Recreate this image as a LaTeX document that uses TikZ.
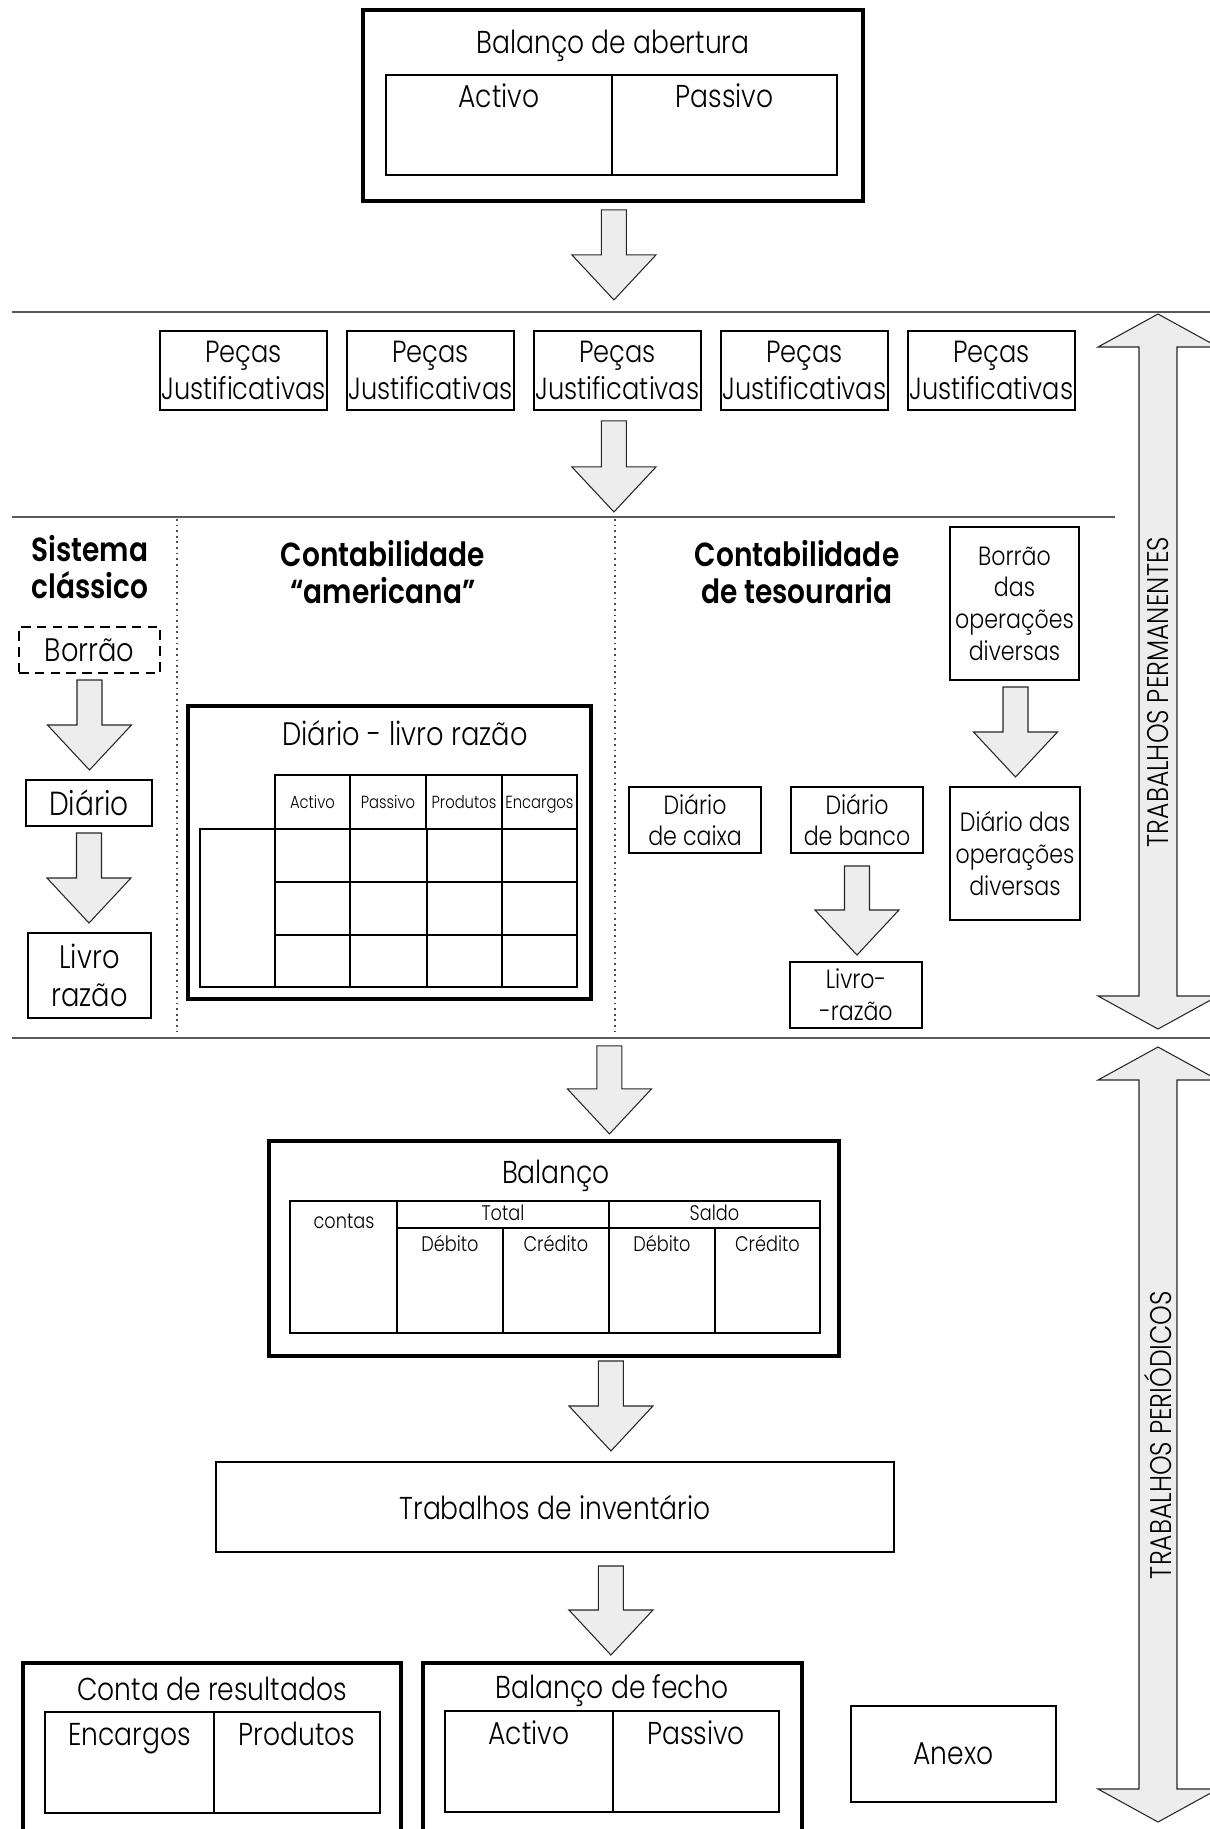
\documentclass[tikz,border=0pt]{standalone}
\usepackage{fontspec}
\setmainfont{Poppins}[UprightFont={* Light},BoldFont={* SemiBold},FakeStretch=0.84]
\usetikzlibrary{positioning,calc}

\newcommand{\seta}[2]{%
  \draw[setafill] (#1) ++(-12.5,0) -- ++(0,#2-45) -- ++(-29.5,0) -- ++(42,45)
    -- ++(42,-45) -- ++(-29.5,0) -- ++(0,45-#2) -- cycle;}
\newcommand{\setadupla}[3]{%
  \draw[setafill] (#1,#2) -- (#1+60,#2+33) -- (#1+19,#2+33) -- (#1+19,#3-33)
    -- (#1+60,#3-33) -- (#1,#3) -- (#1-60,#3-33) -- (#1-19,#3-33)
    -- (#1-19,#2+33) -- (#1-60,#2+33) -- cycle;}

\tikzset{
  caixa/.style={draw,line width=1.1pt,inner sep=0pt,outer sep=0pt,align=center,
    anchor=north west,font=\fontsize{18}{21}\selectfont},
  caixagrossa/.style={caixa,line width=2.2pt},
  tracejada/.style={caixa,dash pattern=on 5.5pt off 3.5pt},
  celula/.style={draw,line width=1.1pt,inner sep=0pt,outer sep=0pt,anchor=north west},
  texto/.style={inner sep=0pt,text height=0.72em,text depth=0pt,yshift=-2.2pt,
    font=\fontsize{18}{21}\selectfont},
  pequeno/.style={inner sep=0pt,text height=0.72em,text depth=0pt,font=\fontsize{10}{12}\selectfont},
  medio/.style={inner sep=0pt,text height=0.72em,text depth=0pt,yshift=-1.5pt,
    font=\fontsize{12}{14}\selectfont},
  titulo/.style={inner sep=0pt,align=center,font=\fontsize{19}{21.5}\selectfont\bfseries},
  vertical/.style={inner sep=0pt,rotate=90,font=\fontsize{17}{20}\selectfont},
  setafill/.style={draw=black!85,fill=black!7,line width=0.6pt},
  divisor/.style={draw=black!65,line width=1pt},
  pontos/.style={draw=black!70,line width=0.9pt,dash pattern=on 1pt off 2.2pt},
}

\begin{document}
\begin{tikzpicture}[x=0.02cm,y=-0.02cm]
\useasboundingbox (0,0) rectangle (1210,1829);

\node[caixagrossa,minimum width=10cm,minimum height=3.82cm] (ab) at (363,10) {};
\node[texto] (abt) at (613,43) {Balanço de abertura};
\node[celula,minimum width=4.52cm,minimum height=2cm] (abA) at (386,75) {};
\node[celula,minimum width=4.5cm,minimum height=2cm] (abP) at (abA.north east) {};
\node[texto] (abAt) at ([yshift=-0.44cm]abA.north) {Activo};
\node[texto] (abPt) at ([yshift=-0.44cm]abP.north) {Passivo};
\seta{$(ab.south)+(1,9)$}{90}

\draw[divisor] (12,312) -- (1210,312);

\node[caixa,minimum width=3.34cm,minimum height=1.58cm,font=\fontsize{17.4}{21.5}\selectfont] (pj1) at (160,331) {Peças\\Justificativas};
\node[caixa,minimum width=3.34cm,minimum height=1.58cm,font=\fontsize{17.4}{21.5}\selectfont,right=0.4cm of pj1] (pj2) {Peças\\Justificativas};
\node[caixa,minimum width=3.34cm,minimum height=1.58cm,font=\fontsize{17.4}{21.5}\selectfont,right=0.4cm of pj2] (pj3) {Peças\\Justificativas};
\node[caixa,minimum width=3.34cm,minimum height=1.58cm,font=\fontsize{17.4}{21.5}\selectfont,right=0.4cm of pj3] (pj4) {Peças\\Justificativas};
\node[caixa,minimum width=3.34cm,minimum height=1.58cm,font=\fontsize{17.4}{21.5}\selectfont,right=0.4cm of pj4] (pj5) {Peças\\Justificativas};
\seta{$(ab.south)+(1,220)$}{91}

\draw[divisor] (12,517) -- (1115,517);
\draw[pontos] (177,519) -- (177,1036);
\draw[pontos] (615,519) -- (615,1036);
\draw[divisor] (12,1038) -- (1210,1038);

\node[titulo] (sc) at (90,567) {Sistema\\clássico};
\node[tracejada,minimum width=2.82cm,minimum height=0.92cm,font=\fontsize{18.5}{21}\selectfont] (bor) at (19,627) {Borrão};
\seta{$(bor.south)+(0,7)$}{90}
\node[caixa,minimum width=2.52cm,minimum height=0.92cm,font=\fontsize{19}{21}\selectfont] (dia) at (26,780) {Diário};
\seta{$(dia.south)+(0,7)$}{90}
\node[caixa,minimum width=2.46cm,minimum height=1.7cm,font=\fontsize{18.5}{22}\selectfont] (lr) at (28,933) {Livro\\razão};

\node[titulo] (ca) at (383,572) {Contabilidade\\“americana”};
\node[caixagrossa,minimum width=8.06cm,minimum height=5.86cm] (dlr) at (188,706) {};
\node[texto,font=\fontsize{18.5}{21}\selectfont] (dlrt) at (405,735) {Diário - livro razão};
\node[celula,minimum width=1.5cm,minimum height=1.08cm,pequeno] (hA) at (275,775) {Activo};
\node[celula,minimum width=1.52cm,minimum height=1.08cm,pequeno] (hP) at (hA.north east) {Passivo};
\node[celula,minimum width=1.52cm,minimum height=1.08cm,pequeno] (hPr) at (hP.north east) {Produtos};
\node[celula,minimum width=1.5cm,minimum height=1.08cm,pequeno] (hE) at (hPr.north east) {Encargos};
\draw[line width=1.1pt] (200,829) rectangle (577,987);
\draw[line width=1.1pt] (275,829) -- (275,987) (350,829) -- (350,987)
  (427,829) -- (427,987) (502,829) -- (502,987)
  (275,882) -- (577,882) (275,935) -- (577,935);

\node[titulo] (ct) at (797,572) {Contabilidade\\de tesouraria};
\node[caixa,minimum width=2.58cm,minimum height=3.06cm,font=\fontsize{15}{18}\selectfont] (bod) at (950,527) {Borrão\\das\\operações\\diversas};
\seta{$(bod.south)+(1,7)$}{90}
\node[caixa,minimum width=2.6cm,minimum height=2.66cm,font=\fontsize{15}{18}\selectfont] (ddo) at (950,787) {Diário das\\operações\\diversas};
\node[caixa,minimum width=2.64cm,minimum height=1.32cm,font=\fontsize{15}{18}\selectfont] (dcx) at (629,787) {Diário\\de caixa};
\node[caixa,minimum width=2.64cm,minimum height=1.32cm,font=\fontsize{15}{18}\selectfont] (dbc) at (791,787) {Diário\\de banco};
\seta{$(dbc.south)+(0,13)$}{89}
\node[caixa,minimum width=2.64cm,minimum height=1.32cm,font=\fontsize{15}{18}\selectfont] (lrz) at (790,962) {Livro-\\-razão};

\setadupla{1158}{314}{1029}
\node[vertical] (tp) at (1158,692) {TRABALHOS PERMANENTES};
\setadupla{1158}{1047}{1822}
\node[vertical] (tpe) at (1158,1435) {TRABALHOS PERIÓDICOS};

\seta{$(dlr.south)+(220,47)$}{88}
\node[caixagrossa,minimum width=11.4cm,minimum height=4.3cm] (bal) at (269,1141) {};
\node[texto] (balt) at (556,1173) {Balanço};
\node[celula,minimum width=2.14cm,minimum height=2.64cm] (bc) at (290,1201) {};
\node[medio] (bct) at (344,1220) {contas};
\node[celula,minimum width=4.24cm,minimum height=0.54cm,medio,yshift=1.5pt] (bto) at (397,1201) {Total};
\node[celula,minimum width=4.22cm,minimum height=0.54cm,medio,yshift=1.5pt] (bsa) at (bto.north east) {Saldo};
\node[celula,minimum width=2.12cm,minimum height=2.1cm] (b1) at (bto.south west) {};
\node[celula,minimum width=2.12cm,minimum height=2.1cm] (b2) at (b1.north east) {};
\node[celula,minimum width=2.12cm,minimum height=2.1cm] (b3) at (b2.north east) {};
\node[celula,minimum width=2.1cm,minimum height=2.1cm] (b4) at (b3.north east) {};
\node[medio] (b1t) at ([yshift=-0.3cm]b1.north) {Débito};
\node[medio] (b2t) at ([yshift=-0.3cm]b2.north) {Crédito};
\node[medio] (b3t) at ([yshift=-0.3cm]b3.north) {Débito};
\node[medio] (b4t) at ([yshift=-0.3cm]b4.north) {Crédito};
\seta{$(bal.south)+(57,5)$}{90}

\node[caixa,minimum width=13.56cm,minimum height=1.8cm] (inv) at (216,1462) {Trabalhos de inventário};
\seta{$(inv.south)+(56,14)$}{89}

\node[caixagrossa,minimum width=7.56cm,minimum height=3.6cm] (cr) at (23,1663) {};
\node[texto] (crt) at (212,1690) {Conta de resultados};
\node[celula,minimum width=3.38cm,minimum height=2.02cm] (crE) at (45,1712) {};
\node[celula,minimum width=3.32cm,minimum height=2.02cm] (crP) at (crE.north east) {};
\node[texto] (crEt) at ([yshift=-0.46cm]crE.north) {Encargos};
\node[texto] (crPt) at ([yshift=-0.46cm]crP.north) {Produtos};

\node[caixagrossa,minimum width=7.58cm,minimum height=3.6cm] (bf) at (423,1663) {};
\node[texto] (bft) at (612,1688) {Balanço de fecho};
\node[celula,minimum width=3.36cm,minimum height=2.02cm] (bfA) at (445,1711) {};
\node[celula,minimum width=3.32cm,minimum height=2.02cm] (bfP) at (bfA.north east) {};
\node[texto] (bfAt) at ([yshift=-0.46cm]bfA.north) {Activo};
\node[texto] (bfPt) at ([yshift=-0.46cm]bfP.north) {Passivo};

\node[caixa,minimum width=4.1cm,minimum height=1.92cm] (anx) at (851,1706) {Anexo};
\end{tikzpicture}
\end{document}
